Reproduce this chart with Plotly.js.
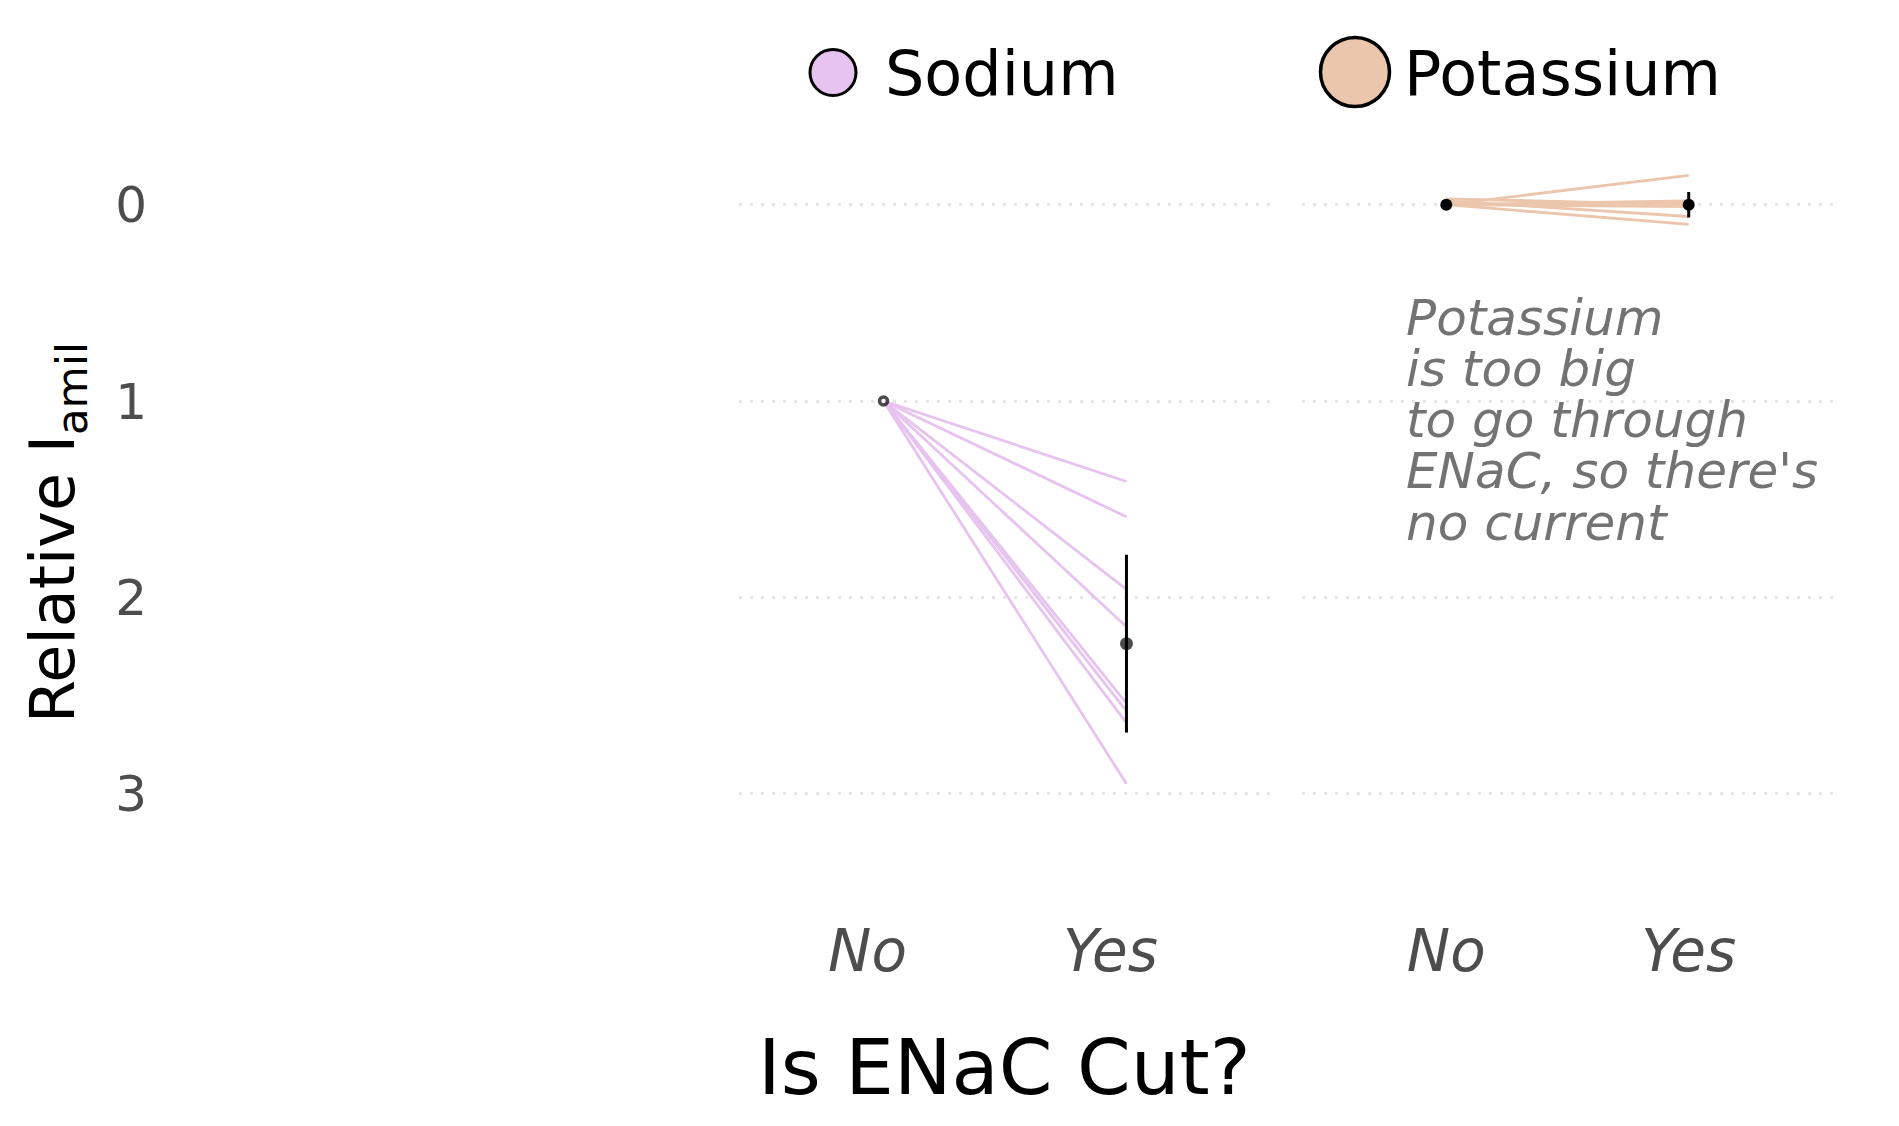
<!DOCTYPE html>
<html>
<head>
<meta charset="utf-8">
<script src="https://cdn.plot.ly/plotly-3.0.1.min.js"></script>
<style>html,body{margin:0;padding:0;background:#fff;} #chart{width:1899px;height:1126px;}</style>
</head>
<body>
<div id="chart"></div>
<script>
// ---- data ----
const cutLevels = ['No', 'Yes'];
const yTicks = [0, 1, 2, 3];
const sodiumNo = [1, 1, 1, 1, 1, 1, 1, 1];
const sodiumYes = [1.41, 1.59, 1.96, 2.15, 2.54, 2.58, 2.64, 2.95];
const potassiumNo = [0, 0, 0, -0.03, 0, -0.02, 0];
const potassiumYes = [-0.15, -0.02, -0.01, 0.0, 0.01, 0.06, 0.10];
const sodiumMean = [1, 2.236];
const sodiumErr = [0, 0.453];
const potassiumMean = [0, 0.0];
const potassiumErr = [0, 0.065];
const legendNames = ['Sodium', 'Potassium'];
const noteLines = ['Potassium', 'is too big', 'to go through', "ENaC, so there's", 'no current'];

// ---- style ----
const W = 1899, H = 1126;
const FONT = 'DejaVu Sans';
const naColor = '#E7C3EF';
const kColor = '#EBC6AC';
const px = v => v / W;
const py = v => 1 - v / H;

const traces = [];
sodiumNo.forEach((v, i) => {
  traces.push({type: 'scatter', mode: 'lines', x: cutLevels, y: [v, sodiumYes[i]],
    xaxis: 'x', yaxis: 'y', line: {color: naColor, width: 2.8}, hoverinfo: 'skip', showlegend: false});
});
potassiumNo.forEach((v, i) => {
  traces.push({type: 'scatter', mode: 'lines', x: cutLevels, y: [v, potassiumYes[i]],
    xaxis: 'x2', yaxis: 'y', line: {color: kColor, width: 2.8}, hoverinfo: 'skip', showlegend: false});
});
// mean + 95% CI (sodium)
traces.push({type: 'scatter', mode: 'markers', x: cutLevels, y: sodiumMean, xaxis: 'x', yaxis: 'y',
  error_y: {type: 'data', array: sodiumErr, visible: true, width: 0, thickness: 3, color: '#000'},
  marker: {color: ['#ffffff', '#000000'], size: [8, 13], line: {color: '#000', width: [3.5, 0]}},
  showlegend: false});
traces.push({type: 'scatter', mode: 'markers', x: cutLevels, y: potassiumMean, xaxis: 'x2', yaxis: 'y',
  error_y: {type: 'data', array: potassiumErr, visible: true, width: 0, thickness: 3, color: '#000'},
  marker: {color: '#000', size: 12}, showlegend: false});

const xCommon = {
  type: 'category', categoryorder: 'array', categoryarray: cutLevels,
  range: [-0.595, 1.595], showgrid: false, zeroline: false, showline: false, ticks: '',
  tickfont: {family: FONT, size: 58, color: '#4d4d4d', style: 'italic'},
  fixedrange: true, anchor: 'y'
};

const layout = {
  width: W, height: H,
  margin: {l: 0, r: 0, t: 0, b: 0},
  paper_bgcolor: '#fff', plot_bgcolor: '#fff',
  showlegend: false,
  font: {family: FONT},
  xaxis: Object.assign({}, xCommon, {domain: [px(739), px(1271)], ticklabelshift: -16, ticklabelstandoff: 1}),
  xaxis2: Object.assign({}, xCommon, {domain: [px(1302), px(1833)], ticklabelstandoff: 1}),
  yaxis: {
    domain: [py(911.4), py(126.2)], range: [3.6, -0.4],
    anchor: 'free', position: px(147),
    tickvals: yTicks, ticktext: yTicks.map(String), ticks: '',
    tickfont: {family: FONT, size: 50, color: '#4d4d4d'},
    showgrid: true, gridcolor: '#e6e6e6', gridwidth: 3, griddash: '3px,8px',
    zeroline: false, showline: false, fixedrange: true
  },
  shapes: [
    {type: 'circle', xref: 'paper', yref: 'paper', x0: px(833 - 23), x1: px(833 + 23), y0: py(72.5 + 23), y1: py(72.5 - 23),
      fillcolor: naColor, line: {color: '#000', width: 3}},
    {type: 'circle', xref: 'paper', yref: 'paper', x0: px(1355 - 34.5), x1: px(1355 + 34.5), y0: py(72 + 34.5), y1: py(72 - 34.5),
      fillcolor: kColor, line: {color: '#000', width: 3.5}}
  ],
  annotations: [
    {text: legendNames[0], xref: 'paper', yref: 'paper', x: px(883), y: py(73), xanchor: 'left', yanchor: 'middle',
      showarrow: false, font: {family: FONT, size: 62, color: '#000'}},
    {text: legendNames[1], xref: 'paper', yref: 'paper', x: px(1402), y: py(73), xanchor: 'left', yanchor: 'middle',
      showarrow: false, font: {family: FONT, size: 62, color: '#000'}},
    {text: 'Is ENaC Cut?', xref: 'paper', yref: 'paper', x: px(1004), y: py(1067), xanchor: 'center', yanchor: 'middle',
      showarrow: false, font: {family: FONT, size: 77, color: '#000'}},
    {text: 'Relative I<sub>amil</sub>', xref: 'paper', yref: 'paper', x: px(56), y: py(533), xanchor: 'center', yanchor: 'middle',
      textangle: -90, showarrow: false, font: {family: FONT, size: 62, color: '#000'}}
  ]
};
const noteBaselines = [335, 386, 437, 488.5, 540];
noteLines.forEach((t, i) => {
  layout.annotations.push({text: t, xref: 'paper', yref: 'paper', x: px(1404), y: py(noteBaselines[i] - 17),
    xanchor: 'left', yanchor: 'middle', showarrow: false,
    font: {family: FONT, size: 50, color: '#737373', style: 'italic'}});
});

Plotly.newPlot('chart', traces, layout, {displayModeBar: false, staticPlot: true});
</script>
</body>
</html>
